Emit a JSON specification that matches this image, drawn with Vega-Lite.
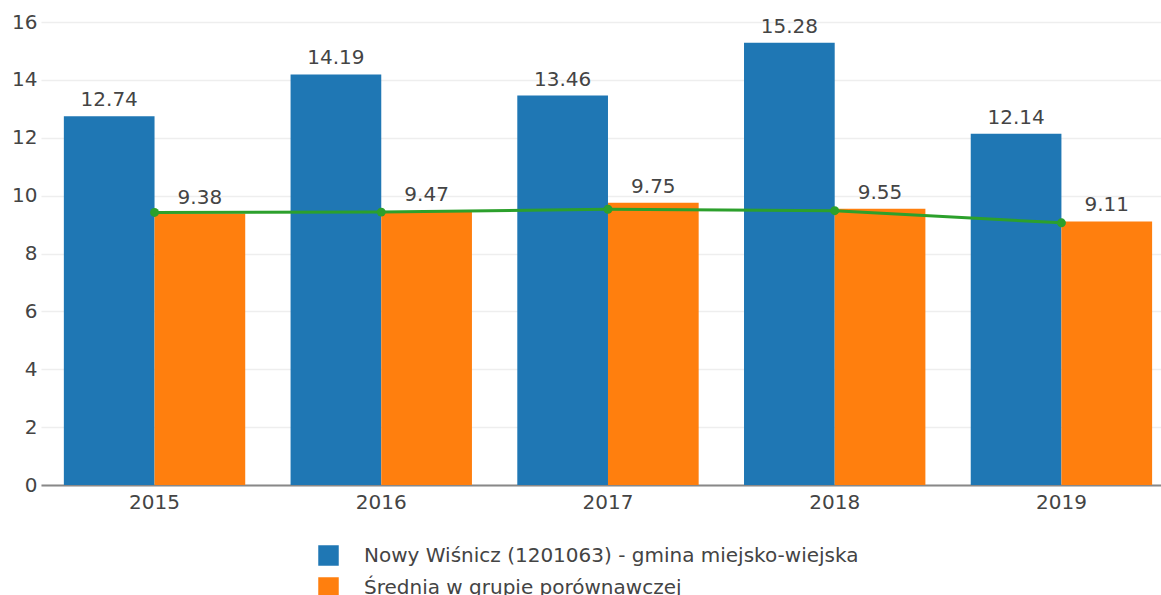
{
  "$schema": "https://vega.github.io/schema/vega-lite/v6.json",
  "width": 1120,
  "height": 463,
  "autosize": {"type": "none"},
  "padding": {"left": 41, "top": 22, "right": 0, "bottom": 110},
  "background": "white",
  "config": {"view": {"stroke": null}, "font": "DejaVu Sans"},
  "datasets": {
    "bars": [
      {"year": "2015", "series": "Nowy Wiśnicz (1201063) - gmina miejsko-wiejska", "value": 12.74},
      {"year": "2015", "series": "Średnia w grupie porównawczej", "value": 9.38},
      {"year": "2016", "series": "Nowy Wiśnicz (1201063) - gmina miejsko-wiejska", "value": 14.19},
      {"year": "2016", "series": "Średnia w grupie porównawczej", "value": 9.47},
      {"year": "2017", "series": "Nowy Wiśnicz (1201063) - gmina miejsko-wiejska", "value": 13.46},
      {"year": "2017", "series": "Średnia w grupie porównawczej", "value": 9.75},
      {"year": "2018", "series": "Nowy Wiśnicz (1201063) - gmina miejsko-wiejska", "value": 15.28},
      {"year": "2018", "series": "Średnia w grupie porównawczej", "value": 9.55},
      {"year": "2019", "series": "Nowy Wiśnicz (1201063) - gmina miejsko-wiejska", "value": 12.14},
      {"year": "2019", "series": "Średnia w grupie porównawczej", "value": 9.11}
    ],
    "line": [
      {"year": "2015", "value": 9.42},
      {"year": "2016", "value": 9.43},
      {"year": "2017", "value": 9.53},
      {"year": "2018", "value": 9.48},
      {"year": "2019", "value": 9.06}
    ]
  },
  "layer": [
    {
      "data": {"name": "bars"},
      "mark": {"type": "bar"},
      "encoding": {
        "x": {
          "field": "year", "type": "nominal",
          "scale": {"paddingInner": 0.2, "paddingOuter": 0.07, "align": 0.72},
          "axis": {"title": null, "labelAngle": 0, "ticks": false, "domainColor": "#888", "domainWidth": 2, "labelPadding": 7, "labelFontSize": 20, "labelColor": "#444", "labelFont": "DejaVu Sans"}
        },
        "xOffset": {"field": "series", "type": "nominal", "sort": ["Nowy Wiśnicz (1201063) - gmina miejsko-wiejska", "Średnia w grupie porównawczej"]},
        "y": {
          "field": "value", "type": "quantitative",
          "scale": {"domain": [0, 16], "nice": false},
          "axis": {"title": null, "values": [0, 2, 4, 6, 8, 10, 12, 14, 16], "domain": false, "ticks": false, "gridColor": "#eeeeee", "gridWidth": 1.5, "labelPadding": 4, "labelFontSize": 20, "labelColor": "#444", "labelFont": "DejaVu Sans"}
        },
        "color": {
          "field": "series", "type": "nominal",
          "scale": {"domain": ["Nowy Wiśnicz (1201063) - gmina miejsko-wiejska", "Średnia w grupie porównawczej"], "range": ["#1f77b4", "#ff7f0e"]},
          "legend": {"title": null, "orient": "none", "legendX": 277, "legendY": 523, "padding": 0, "symbolType": "square", "symbolSize": 420, "symbolStrokeWidth": 0, "symbolOpacity": 1, "labelFontSize": 20, "labelColor": "#444", "labelFont": "DejaVu Sans", "labelOffset": 25, "labelLimit": 0, "rowPadding": 11}
        }
      }
    },
    {
      "data": {"name": "bars"},
      "mark": {"type": "text", "dy": -10, "baseline": "alphabetic", "fontSize": 20, "color": "#444", "font": "DejaVu Sans"},
      "encoding": {
        "x": {"field": "year", "type": "nominal"},
        "xOffset": {"field": "series", "type": "nominal", "sort": ["Nowy Wiśnicz (1201063) - gmina miejsko-wiejska", "Średnia w grupie porównawczej"]},
        "y": {"field": "value", "type": "quantitative"},
        "text": {"field": "value", "type": "quantitative", "format": ".2f"}
      }
    },
    {
      "data": {"name": "line"},
      "mark": {"type": "line", "color": "#2ca02c", "strokeWidth": 3, "point": {"filled": true, "size": 80, "color": "#2ca02c"}},
      "encoding": {
        "x": {"field": "year", "type": "nominal"},
        "y": {"field": "value", "type": "quantitative"}
      }
    }
  ]
}
